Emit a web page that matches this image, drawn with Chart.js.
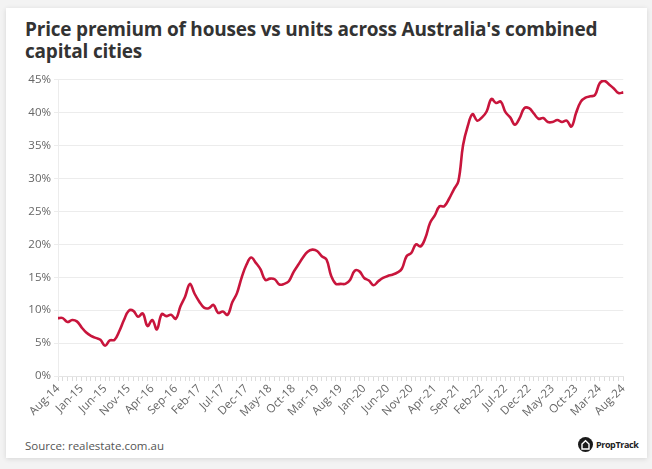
<!DOCTYPE html>
<html>
<head>
<meta charset="utf-8">
<script src="https://cdn.jsdelivr.net/npm/chart.js@4.4.1/dist/chart.umd.min.js"></script>
<style>
    html, body { margin: 0; padding: 0; }
    body { width: 652px; height: 469px; background: #f3f3f3; position: relative; overflow: hidden; font-family: 'Open Sans', sans-serif; }
    .card { position: absolute; left: 6px; top: 8px; width: 641px; height: 450px; background: #fff; box-shadow: 0 1px 5px rgba(0,0,0,0.12); }
    .title { position: absolute; left: 25px; top: 18px; width: 600px; font-size: 19px; font-weight: 700; line-height: 22px; color: #333; letter-spacing: -0.2px; }
    .chart-box { position: absolute; left: 14px; top: 70px; width: 620px; height: 362px; }
    .source { position: absolute; left: 25px; top: 438px; font-size: 11.5px; color: #555; }
    .logo { position: absolute; left: 578px; top: 437px; display: flex; align-items: center; font-size: 9px; font-weight: 700; color: #222; letter-spacing: -0.4px; }
    .logo svg { margin-right: 3px; }
</style>
</head>
<body>
<div class="card"></div>
<div class="title">Price premium of houses vs units across Australia's combined capital cities</div>
<div class="chart-box"><canvas id="premiumChart"></canvas></div>
<div class="source">Source: realestate.com.au</div>
<div class="logo">
    <svg width="15" height="15" viewBox="0 0 15 15"><circle cx="7.5" cy="7.5" r="7.5" fill="#1a1a1a"/><path d="M4 12 V7 L7.5 3.8 L11 7 V12 Z" fill="none" stroke="#fff" stroke-width="1.4"/></svg>PropTrack
</div>

<script>
const SELECTOR_CHART = 'premiumChart';

const MONTH_NAMES = ['Jan', 'Feb', 'Mar', 'Apr', 'May', 'Jun', 'Jul', 'Aug', 'Sep', 'Oct', 'Nov', 'Dec'];
const START_MONTH = 7;   // Aug
const START_YEAR  = 14;
const MONTH_COUNT = 121; // Aug-14 .. Aug-24
const LABEL_EVERY = 5;

const Y_TICKS = [0, 5, 10, 15, 20, 25, 30, 35, 40, 45];

// house price premium over units, %, monthly
const PREMIUM = [
    8.8, 8.8, 8.2, 8.5, 8.3, 7.4, 6.6, 6.1, 5.8, 5.5,
    4.6, 5.4, 5.5, 6.8, 8.5, 9.9, 9.9, 9.0, 9.5, 7.6,
    8.5, 7.1, 9.4, 9.1, 9.3, 8.7, 10.6, 12.1, 14.0, 12.5,
    11.3, 10.4, 10.3, 10.8, 9.6, 9.8, 9.3, 11.2, 12.6, 15.0,
    16.9, 18.0, 17.2, 16.2, 14.6, 14.8, 14.7, 13.9, 14.0, 14.4,
    15.8, 16.9, 18.0, 18.9, 19.2, 19.0, 18.2, 17.7, 15.2, 14.0,
    14.0, 14.0, 14.6, 16.0, 15.9, 14.9, 14.5, 13.8, 14.4, 14.9,
    15.2, 15.4, 15.7, 16.3, 18.2, 18.7, 20.0, 19.7, 21.0, 23.3,
    24.4, 25.8, 25.8, 26.9, 28.3, 29.6, 35.1, 38.0, 39.8, 38.8,
    39.3, 40.2, 42.1, 41.5, 41.7, 40.1, 39.3, 38.2, 39.2, 40.7,
    40.7, 39.9, 39.1, 39.2, 38.6, 38.6, 38.9, 38.6, 38.8, 37.9,
    40.0, 41.7, 42.3, 42.5, 42.7, 44.5, 44.85, 44.3, 43.7, 43.0,
    43.1
];

const LINE_COLOR = '#c8153c';
const GRID_COLOR = '#ececec';
const TICK_COLOR = '#666';

function getLabels() {
    let labels = [];

    for (let i = 0; i < MONTH_COUNT; i++) {
        let m = (START_MONTH + i) % 12;
        let y = START_YEAR + Math.floor((START_MONTH + i) / 12);
        labels.push(`${MONTH_NAMES[m]}-${y}`);
    }

    return labels;
}

function initChart() {
    const labels = getLabels();

    new Chart(document.getElementById(SELECTOR_CHART), {
        type: 'line',
        data: {
            labels: labels,
            datasets: [{
                data: PREMIUM,
                borderColor: LINE_COLOR,
                borderWidth: 2.6,
                pointRadius: 0,
                tension: 0.4,
                fill: false
            }]
        },
        options: {
            responsive: true,
            maintainAspectRatio: false,
            animation: false,
            layout: { padding: { top: 4, right: 6 } },
            plugins: {
                legend: { display: false },
                tooltip: { enabled: false }
            },
            scales: {
                x: {
                    grid: {
                        drawOnChartArea: false,
                        color: '#dcdcdc',
                        tickLength: 5
                    },
                    border: { color: '#e4e4e4' },
                    ticks: {
                        autoSkip: false,
                        minRotation: 45,
                        maxRotation: 45,
                        padding: 1,
                        color: TICK_COLOR,
                        font: { family: 'Open Sans', size: 11.5 },
                        callback: function (value, index) {
                            return index % LABEL_EVERY === 0 ? labels[index] : '';
                        }
                    },
                    afterFit: function (axis) { axis.height = 56; }
                },
                y: {
                    min: 0,
                    max: 45,
                    afterBuildTicks: function (axis) {
                        axis.ticks = Y_TICKS.map(v => ({ value: v }));
                    },
                    grid: {
                        color: GRID_COLOR,
                        tickLength: 4
                    },
                    border: { display: true, color: '#ececec' },
                    ticks: {
                        padding: 3,
                        color: TICK_COLOR,
                        font: { family: 'Open Sans', size: 11.5 },
                        callback: function (value) { return `${value}%`; }
                    },
                    afterFit: function (axis) { axis.width = 44; }
                }
            }
        }
    });
}

initChart();
</script>
</body>
</html>
